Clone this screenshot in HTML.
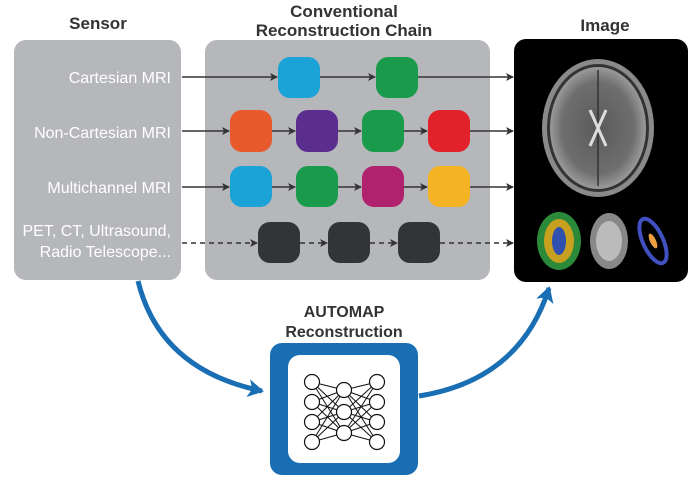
<!DOCTYPE html>
<html><head><style>
body{margin:0;background:#fff;}
svg{display:block;}
text{font-family:"Liberation Sans",sans-serif;}
</style></head><body>
<svg width="700" height="488" viewBox="0 0 700 488" xmlns="http://www.w3.org/2000/svg">
<defs>
<marker id="ah" markerWidth="8" markerHeight="8" refX="7" refY="4" orient="auto" markerUnits="userSpaceOnUse"><path d="M0,0 L8,4 L0,8 L2,4Z" fill="#333"/></marker>
<marker id="bh" markerWidth="22" markerHeight="22" refX="14" refY="11" orient="auto" markerUnits="userSpaceOnUse"><path d="M0,2 L16,11 L0,20 L4,11Z" fill="#1a6fb4"/></marker>
<radialGradient id="br" cx="50%" cy="50%" r="50%"><stop offset="0" stop-color="#5a5a5a"/><stop offset="0.75" stop-color="#6e6e6e"/><stop offset="1" stop-color="#9a9a9a"/></radialGradient>
</defs>
<text x="98" y="29" font-size="17" font-weight="bold" fill="#333" text-anchor="middle">Sensor</text>
<text x="344" y="17" font-size="17" font-weight="bold" fill="#333" text-anchor="middle">Conventional</text>
<text x="344" y="36" font-size="17" font-weight="bold" fill="#333" text-anchor="middle">Reconstruction Chain</text>
<text x="605" y="31" font-size="17" font-weight="bold" fill="#333" text-anchor="middle">Image</text>
<rect x="14" y="40" width="167" height="240" rx="12" fill="#b6b7ba"/>
<rect x="205" y="40" width="285" height="240" rx="12" fill="#b6b7ba"/>
<rect x="514" y="39" width="174" height="243" rx="12" fill="#000"/>
<g font-size="16" fill="#fff" text-anchor="end">
<text x="171" y="83">Cartesian MRI</text>
<text x="171" y="138">Non-Cartesian MRI</text>
<text x="171" y="193">Multichannel MRI</text>
<text x="171" y="236">PET, CT, Ultrasound,</text>
<text x="171" y="257">Radio Telescope...</text>
</g>
<g stroke="#333" stroke-width="1.5" marker-end="url(#ah)">
<line x1="182" y1="77" x2="277" y2="77"/>
<line x1="320" y1="77" x2="375" y2="77"/>
<line x1="418" y1="77" x2="513" y2="77"/>
<line x1="182" y1="131" x2="229" y2="131"/><line x1="272" y1="131" x2="295" y2="131"/><line x1="338" y1="131" x2="361" y2="131"/><line x1="404" y1="131" x2="427" y2="131"/><line x1="470" y1="131" x2="513" y2="131"/>
<line x1="182" y1="187" x2="229" y2="187"/><line x1="272" y1="187" x2="295" y2="187"/><line x1="338" y1="187" x2="361" y2="187"/><line x1="404" y1="187" x2="427" y2="187"/><line x1="470" y1="187" x2="513" y2="187"/>
<g stroke-dasharray="5,4"><line x1="182" y1="243" x2="257" y2="243"/><line x1="300" y1="243" x2="327" y2="243"/><line x1="370" y1="243" x2="397" y2="243"/><line x1="440" y1="243" x2="513" y2="243"/></g>
</g>
<g>
<rect x="278" y="57" width="42" height="41" rx="12" fill="#1ba3d8"/>
<rect x="376" y="57" width="42" height="41" rx="12" fill="#1a9b4b"/>
<rect x="230" y="110" width="42" height="42" rx="12" fill="#e85a2c"/>
<rect x="296" y="110" width="42" height="42" rx="12" fill="#5b2d8e"/>
<rect x="362" y="110" width="42" height="42" rx="12" fill="#1a9b4b"/>
<rect x="428" y="110" width="42" height="42" rx="12" fill="#e2222b"/>
<rect x="230" y="166" width="42" height="41" rx="12" fill="#1ba3d8"/>
<rect x="296" y="166" width="42" height="41" rx="12" fill="#1a9b4b"/>
<rect x="362" y="166" width="42" height="41" rx="12" fill="#b0226e"/>
<rect x="428" y="166" width="42" height="41" rx="12" fill="#f4b322"/>
<rect x="258" y="222" width="42" height="41" rx="12" fill="#333436"/>
<rect x="328" y="222" width="42" height="41" rx="12" fill="#333436"/>
<rect x="398" y="222" width="42" height="41" rx="12" fill="#333436"/>
</g>
<ellipse cx="598" cy="128" rx="56" ry="69" fill="#8a8a8a"/>
<ellipse cx="598" cy="128" rx="51" ry="64" fill="#333"/>
<ellipse cx="598" cy="128" rx="48" ry="61" fill="url(#br)"/>
<line x1="598" y1="70" x2="598" y2="186" stroke="#333" stroke-width="1.5"/>
<path d="M590,110 L598,128 L606,110 M590,146 L598,128 L606,146" stroke="#ddd" stroke-width="3" fill="none"/>
<ellipse cx="559" cy="241" rx="22" ry="29" fill="#2a8a3a"/>
<ellipse cx="559" cy="241" rx="15" ry="22" fill="#c8a020"/>
<ellipse cx="559" cy="241" rx="7" ry="14" fill="#3050b0"/>
<ellipse cx="609" cy="241" rx="19" ry="28" fill="#888"/>
<ellipse cx="609" cy="241" rx="13" ry="20" fill="#bbb"/>
<ellipse cx="653" cy="241" rx="10" ry="24" fill="none" stroke="#4050c0" stroke-width="4" transform="rotate(-25 653 241)"/>
<ellipse cx="653" cy="241" rx="3" ry="8" fill="#f0a040" transform="rotate(-25 653 241)"/>
<path d="M138,281 Q160,370 262,391" stroke="#1a6fb4" stroke-width="5" fill="none" marker-end="url(#bh)"/>
<path d="M419,396 Q520,380 549,288" stroke="#1a6fb4" stroke-width="5" fill="none" marker-end="url(#bh)"/>
<text x="344" y="317" font-size="16" font-weight="bold" fill="#333" text-anchor="middle">AUTOMAP</text>
<text x="344" y="337" font-size="16" font-weight="bold" fill="#333" text-anchor="middle">Reconstruction</text>
<rect x="270" y="343" width="148" height="132" rx="12" fill="#1a6fb4"/>
<rect x="288" y="355" width="112" height="108" rx="12" fill="#fff"/>
<g stroke="#111" stroke-width="1" fill="none">
<path d="M312,382 L344,390 M312,382 L344,412 M312,382 L344,433 M312,402 L344,390 M312,402 L344,412 M312,402 L344,433 M312,422 L344,390 M312,422 L344,412 M312,422 L344,433 M312,442 L344,390 M312,442 L344,412 M312,442 L344,433"/>
<path d="M377,382 L344,390 M377,382 L344,412 M377,382 L344,433 M377,402 L344,390 M377,402 L344,412 M377,402 L344,433 M377,422 L344,390 M377,422 L344,412 M377,422 L344,433 M377,442 L344,390 M377,442 L344,412 M377,442 L344,433"/>
</g>
<g stroke="#111" stroke-width="1.2" fill="#fff">
<circle cx="312" cy="382" r="7.5"/><circle cx="312" cy="402" r="7.5"/><circle cx="312" cy="422" r="7.5"/><circle cx="312" cy="442" r="7.5"/>
<circle cx="344" cy="390" r="7.5"/><circle cx="344" cy="412" r="7.5"/><circle cx="344" cy="433" r="7.5"/>
<circle cx="377" cy="382" r="7.5"/><circle cx="377" cy="402" r="7.5"/><circle cx="377" cy="422" r="7.5"/><circle cx="377" cy="442" r="7.5"/>
</g>
</svg>
</body></html>
